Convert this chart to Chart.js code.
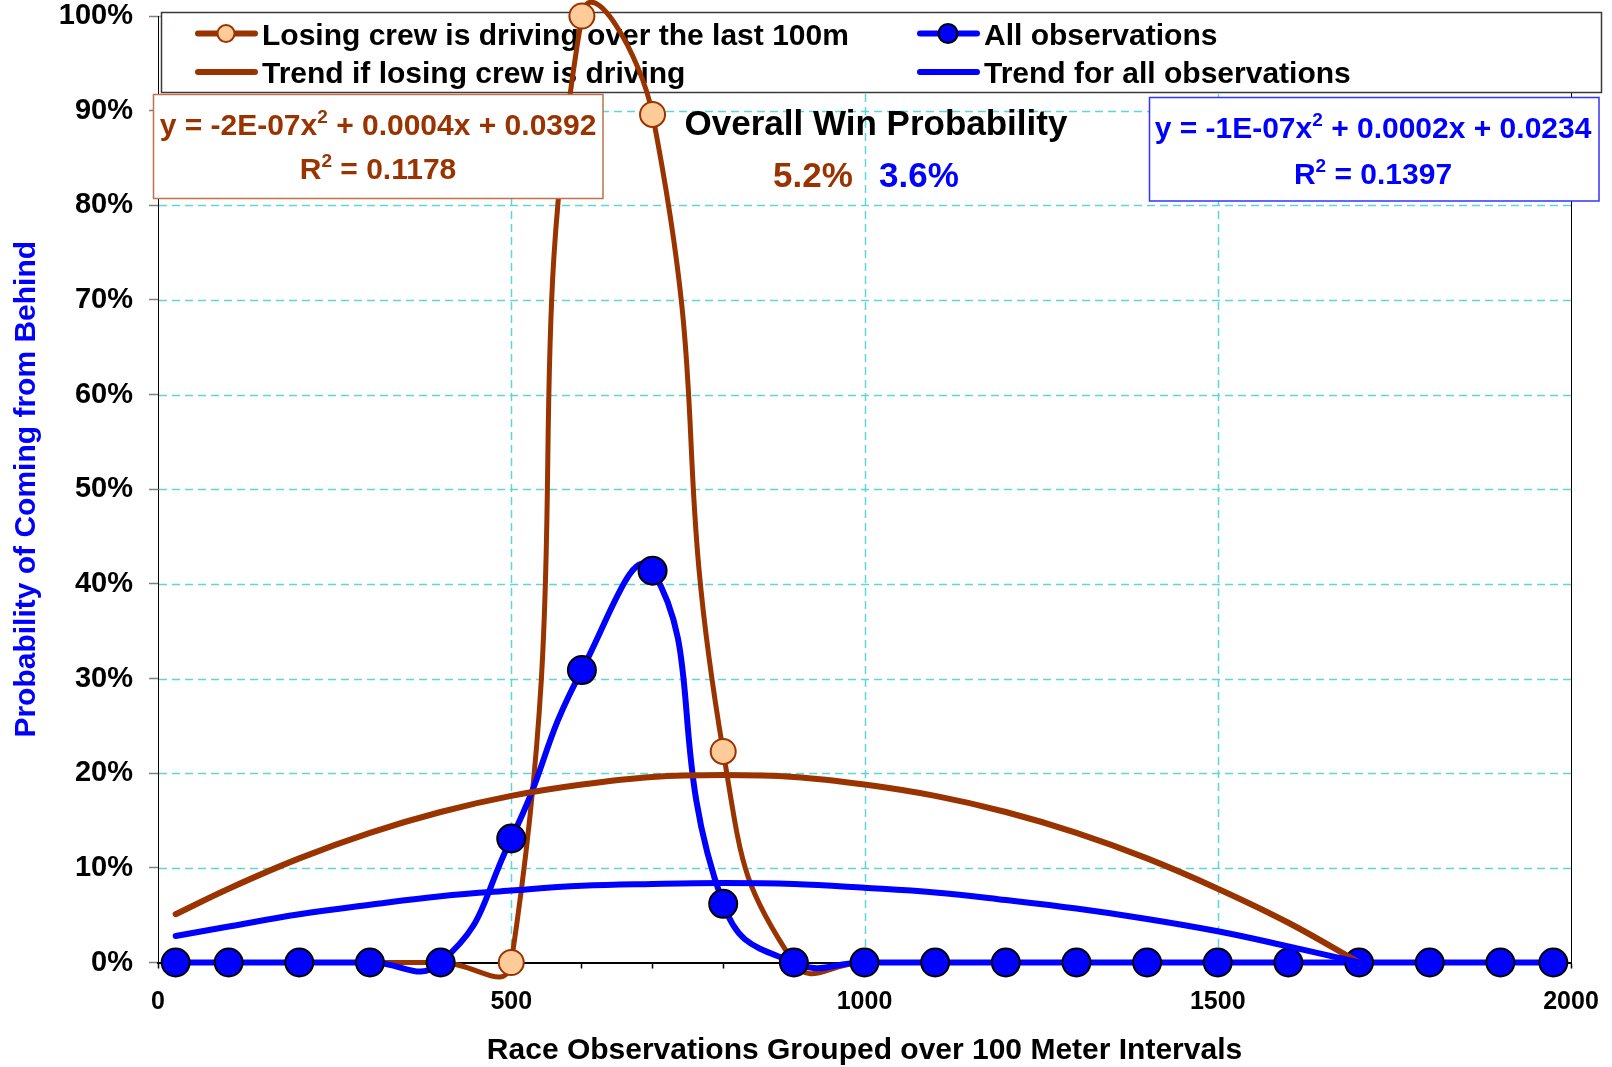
<!DOCTYPE html>
<html>
<head>
<meta charset="utf-8">
<title>Probability of Coming from Behind</title>
<script src="https://cdn.jsdelivr.net/npm/chart.js@4.4.1/dist/chart.umd.min.js"></script>
<style>
  html, body { margin: 0; padding: 0; background: #ffffff; }
  #wrap { width: 1612px; height: 1067px; position: relative; }
</style>
</head>
<body>
<div id="wrap"><canvas id="chart" width="1612" height="1067"></canvas></div>
<script>
// Race distance at which each group of observations is plotted (metres)
const distances = [25, 100, 200, 300, 400, 500, 600, 700, 800, 900, 1000,
                   1100, 1200, 1300, 1400, 1500, 1600, 1700, 1800, 1900, 1975];
// Probability (%) that the losing crew comes from behind, when it is driving over the last 100m
const losingCrewDriving = [0, 0, 0, 0, 0, 0, 100, 89.6, 22.3, 0, 0,
                           0, 0, 0, 0, 0, 0, 0, 0, 0, 0];
// Probability (%) over all observations
const allObservations = [0, 0, 0, 0, 0, 13.1, 30.9, 41.4, 6.2, 0, 0,
                         0, 0, 0, 0, 0, 0, 0, 0, 0, 0];
// Polynomial trend lines (%)
const trendDistances = [25, 100, 200, 300, 400, 500, 600, 700, 800, 900,
                        1000, 1100, 1200, 1300, 1400, 1500, 1600, 1700];
const trendLosing = [5.1, 7.8, 11.0, 13.7, 15.9, 17.6, 18.8, 19.6, 19.8, 19.6,
                     18.8, 17.6, 15.9, 13.7, 11.0, 7.8, 4.2, 0];
const trendAll = [2.8, 3.8, 5.1, 6.1, 7.0, 7.6, 8.1, 8.3, 8.4, 8.3,
                  7.9, 7.4, 6.6, 5.7, 4.6, 3.3, 1.7, 0];

const seriesNames = ['Losing crew is driving over the last 100m', 'All observations',
                     'Trend if losing crew is driving', 'Trend for all observations'];
const xLabelValues = [0, 500, 1000, 1500, 2000];
const xGridValues = [500, 1000, 1500];
const yGridValues = [10, 20, 30, 40, 50, 60, 70, 80, 90, 100];

// Trend equations as shown in the boxes: [text, superscript, text, ...]
const equationLosing = [['y = -2E-07x', '2', ' + 0.0004x + 0.0392'], ['R', '2', ' = 0.1178']];
const equationAll = [['y = -1E-07x', '2', ' + 0.0002x + 0.0234'], ['R', '2', ' = 0.1397']];
const winTitle = 'Overall Win Probability';
const winLosing = 5.2;
const winAll = 3.6;

const BROWN = '#993300';
const PEACH = '#ffcc99';
const BLUE = '#0000ff';
const GRID = '#5cd6d6';
const FONT = "'Liberation Sans', Arial, Helvetica, sans-serif";

Chart.defaults.font.family = FONT;
Chart.defaults.color = '#000000';

const pts = (xs, ys) => xs.map((x, i) => ({ x: x, y: ys[i] }));

// Draws a run of text pieces where every second piece is a superscript
function drawRich(ctx, parts, cx, baseline, size, color) {
  const supSize = Math.round(size * 0.62);
  const widths = parts.map((p, i) => {
    ctx.font = 'bold ' + (i % 2 ? supSize : size) + 'px ' + FONT;
    return ctx.measureText(p).width;
  });
  const total = widths.reduce((a, b) => a + b, 0);
  let x = cx - total / 2;
  ctx.fillStyle = color;
  ctx.textAlign = 'left';
  ctx.textBaseline = 'alphabetic';
  parts.forEach((p, i) => {
    const sup = i % 2 === 1;
    ctx.font = 'bold ' + (sup ? supSize : size) + 'px ' + FONT;
    ctx.fillText(p, x, sup ? baseline - 12 : baseline);
    x += widths[i];
  });
}

const decor = {
  id: 'decor',
  beforeDatasetsDraw(chart) {
    const ctx = chart.ctx, xs = chart.scales.x, ys = chart.scales.y, a = chart.chartArea;
    ctx.save();
    // dashed gridlines
    ctx.strokeStyle = GRID;
    ctx.lineWidth = 1.5;
    ctx.setLineDash([8, 5]);
    yGridValues.forEach(v => {
      const y = Math.round(ys.getPixelForValue(v)) + 0.5;
      ctx.beginPath(); ctx.moveTo(a.left + 1, y); ctx.lineTo(a.right, y); ctx.stroke();
    });
    xGridValues.forEach(v => {
      const x = Math.round(xs.getPixelForValue(v)) + 0.5;
      ctx.beginPath(); ctx.moveTo(x, a.top); ctx.lineTo(x, a.bottom); ctx.stroke();
    });
    ctx.setLineDash([]);
    // right edge of the plot area
    ctx.strokeStyle = '#000000';
    ctx.lineWidth = 1;
    ctx.beginPath(); ctx.moveTo(Math.round(a.right) + 0.5, a.top); ctx.lineTo(Math.round(a.right) + 0.5, a.bottom); ctx.stroke();

    // legend box (sits beneath the plotted series)
    const lx = 161.5, ly = 12.5, lw = 1440, lh = 80;
    ctx.fillStyle = '#ffffff';
    ctx.fillRect(lx, ly, lw, lh);
    ctx.strokeStyle = '#3a3a3a';
    ctx.lineWidth = 1.5;
    ctx.strokeRect(lx, ly, lw, lh);

    const cols = [195, 917];
    const rows = [33.5, 72];
    const textOffset = 67;
    chart.data.datasets.forEach((ds, i) => {
      const cx = cols[i % 2], cy = rows[Math.floor(i / 2)];
      ctx.strokeStyle = ds.borderColor;
      ctx.lineWidth = 6;
      ctx.lineCap = 'round';
      ctx.beginPath(); ctx.moveTo(cx + 3, cy); ctx.lineTo(cx + 60, cy); ctx.stroke();
      if (ds.pointRadius > 0) {
        ctx.beginPath();
        ctx.arc(cx + 31, cy, ds.legendRadius, 0, Math.PI * 2);
        ctx.fillStyle = ds.pointBackgroundColor;
        ctx.fill();
        ctx.lineWidth = 2;
        ctx.strokeStyle = ds.pointBorderColor;
        ctx.stroke();
      }
      ctx.fillStyle = '#000000';
      ctx.font = 'bold 30px ' + FONT;
      ctx.textAlign = 'left';
      ctx.textBaseline = 'alphabetic';
      ctx.fillText(ds.label, cx + textOffset, cy + 11);
    });
    ctx.restore();
  },
  afterDraw(chart) {
    const ctx = chart.ctx;
    ctx.save();
    // trend equation boxes
    const boxes = [
      { x: 153.5, y: 94.5, w: 449.5, h: 104, border: '#c0704a', color: BROWN, lines: equationLosing, cx: 378, base: [135, 179] },
      { x: 1149.5, y: 97.5, w: 449.5, h: 103.5, border: '#3333ff', color: BLUE, lines: equationAll, cx: 1373, base: [138, 184] }
    ];
    boxes.forEach(b => {
      ctx.fillStyle = '#ffffff';
      ctx.fillRect(b.x, b.y, b.w, b.h);
      ctx.strokeStyle = b.border;
      ctx.lineWidth = 1.5;
      ctx.strokeRect(b.x, b.y, b.w, b.h);
      b.lines.forEach((parts, i) => drawRich(ctx, parts, b.cx, b.base[i], 30, b.color));
    });
    // overall win probability
    ctx.textAlign = 'center';
    ctx.textBaseline = 'alphabetic';
    ctx.font = 'bold 35px ' + FONT;
    ctx.fillStyle = '#000000';
    ctx.fillText(winTitle, 876, 135);
    ctx.fillStyle = BROWN;
    ctx.fillText(winLosing.toFixed(1) + '%', 813, 187);
    ctx.fillStyle = BLUE;
    ctx.fillText(winAll.toFixed(1) + '%', 919, 187);
    ctx.restore();
  }
};

new Chart(document.getElementById('chart'), {
  type: 'line',
  data: {
    datasets: [
      {
        label: seriesNames[0],
        data: pts(distances, losingCrewDriving),
        borderColor: BROWN, borderWidth: 5,
        pointRadius: 12.5, pointBackgroundColor: PEACH, pointBorderColor: BROWN, pointBorderWidth: 2,
        legendRadius: 8.5,
        tension: 0.5, capBezierPoints: false, clip: false, order: 4
      },
      {
        label: seriesNames[1],
        data: pts(distances, allObservations),
        borderColor: BLUE, borderWidth: 6,
        pointRadius: 14, pointBackgroundColor: BLUE, pointBorderColor: '#000000', pointBorderWidth: 2,
        legendRadius: 9.5,
        tension: 0.5, capBezierPoints: false, clip: false, order: 3
      },
      {
        label: seriesNames[2],
        data: pts(trendDistances, trendLosing),
        borderColor: BROWN, borderWidth: 6, borderCapStyle: 'round',
        pointRadius: 0, tension: 0.4, clip: false, order: 2
      },
      {
        label: seriesNames[3],
        data: pts(trendDistances, trendAll),
        borderColor: BLUE, borderWidth: 6, borderCapStyle: 'round',
        pointRadius: 0, tension: 0.4, clip: false, order: 1
      }
    ]
  },
  options: {
    responsive: false,
    animation: false,
    devicePixelRatio: 1,
    layout: { padding: { top: 16, right: 41, left: 0, bottom: 0 } },
    plugins: { legend: { display: false }, tooltip: { enabled: false } },
    elements: { point: { hoverRadius: 14 } },
    scales: {
      x: {
        type: 'linear', min: 0, max: 2000,
        afterFit(scale) {
          scale.height = 104.5;
          scale.paddingLeft = 0;
          scale.paddingRight = 0;
        },
        ticks: {
          stepSize: 100, autoSkip: false, maxRotation: 0, padding: 19,
          font: { size: 25, weight: 'bold' }, color: '#000000',
          callback: v => xLabelValues.includes(v) ? String(v) : ''
        },
        grid: { drawOnChartArea: false, drawTicks: true, tickLength: 6, tickColor: '#000000', tickWidth: 1.5 },
        border: { color: '#000000', width: 2 },
        title: {
          display: true, text: 'Race Observations Grouped over 100 Meter Intervals',
          font: { size: 30, weight: 'bold', lineHeight: 1 }, color: '#000000', padding: { top: 0, bottom: 1 }
        }
      },
      y: {
        min: 0, max: 100,
        afterFit(scale) {
          scale.width = 158;
          scale.paddingTop = 0;
          scale.paddingBottom = 0;
        },
        ticks: {
          stepSize: 10, padding: 16,
          font: { size: 29, weight: 'bold' }, color: '#000000',
          callback: v => v + '%'
        },
        grid: { drawOnChartArea: false, drawTicks: true, tickLength: 9, tickColor: '#808080', tickWidth: 1.5 },
        border: { color: '#000000', width: 1 },
        title: {
          display: true, text: 'Probability of Coming from Behind',
          font: { size: 30, weight: 'bold' }, color: BLUE, padding: { top: 9, bottom: 0 }
        }
      }
    }
  },
  plugins: [decor]
});
</script>
</body>
</html>
